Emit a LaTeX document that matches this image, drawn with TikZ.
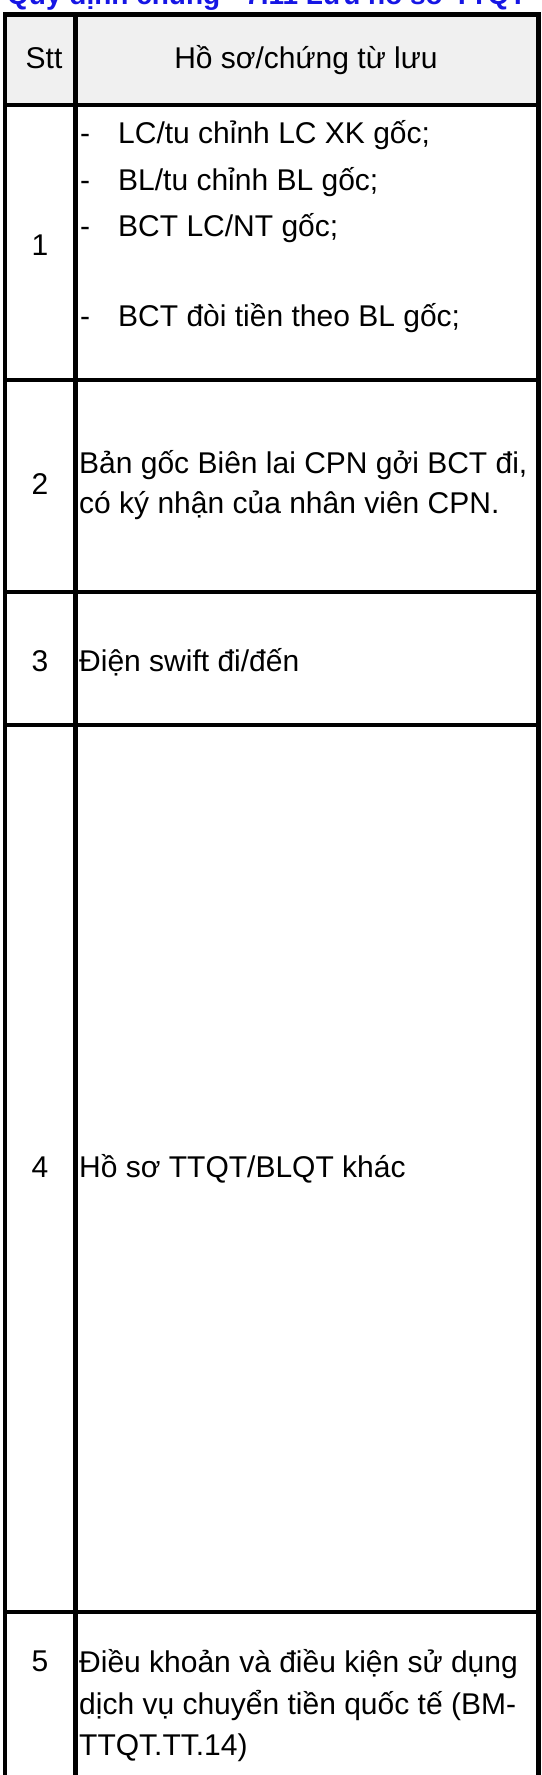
\documentclass[tikz,border=0pt]{standalone}
\usepackage{fontspec}
\setmainfont{Liberation Sans}
\usetikzlibrary{positioning}
\definecolor{titleblue}{RGB}{22,22,228}
\definecolor{headgray}{RGB}{240,240,240}
\tikzset{
    gridline/.style={line width=4.5pt},
    celltext/.style={inner sep=0pt, anchor=base west, font=\fontsize{30}{40}\selectfont},
    sttnum/.style={inner sep=0pt, anchor=base, font=\fontsize{30}{40}\selectfont},
}

\begin{document}
\begin{tikzpicture}[x=1pt,y=-1pt]
    \useasboundingbox (0,0) rectangle (541,1775);
    \clip (0,0) rectangle (541,1775);

    % title, cut off at the top
    \node[anchor=base west, inner sep=0pt, text=titleblue,
        font=\fontsize{28}{34}\selectfont\bfseries] (title) at (7,4)
        {Quy định chung - 7.11 Lưu hồ sơ TTQT};

    \fill[headgray] (5,14) rectangle (538.5,105);

    \node[sttnum] (stt) at (44,68) {Stt};
    \node[sttnum] (hoso) at (306,68) {Hồ sơ/chứng từ lưu};

    \node[sttnum] (n1) at (40,255) {1};
    \node[celltext] (d1) at (80,143) {-};
    \node[celltext] (r1a) at (118,143) {LC/tu chỉnh LC XK gốc;};
    \node[celltext] (d2) at (80,190) {-};
    \node[celltext] (r1b) at (118,190) {BL/tu chỉnh BL gốc;};
    \node[celltext] (d3) at (80,236) {-};
    \node[celltext] (r1c) at (118,236) {BCT LC/NT gốc;};
    \node[celltext] (d4) at (80,326) {-};
    \node[celltext] (r1d) at (118,326) {BCT đòi tiền theo BL gốc;};

    \node[sttnum] (n2) at (40,494) {2};
    \node[celltext] (r2a) at (79,473) {Bản gốc Biên lai CPN gởi BCT đi,};
    \node[celltext] (r2b) at (79,513) {có ký nhận của nhân viên CPN.};

    \node[sttnum] (n3) at (40,671) {3};
    \node[celltext] (r3) at (79,671) {Điện swift đi/đến};

    \node[sttnum] (n4) at (40,1177) {4};
    \node[celltext] (r4) at (79,1177) {Hồ sơ TTQT/BLQT khác};

    \node[sttnum] (n5) at (40,1671) {5};
    \node[celltext] (r5a) at (79,1672) {Điều khoản và điều kiện sử dụng};
    \node[celltext] (r5b) at (79,1714) {dịch vụ chuyển tiền quốc tế (BM-};
    \node[celltext] (r5c) at (79,1755) {TTQT.TT.14)};

    % grid
    \draw[gridline] (5,12) -- (5,1780);
    \draw[gridline] (75.5,12) -- (75.5,1780);
    \draw[gridline] (538.5,12) -- (538.5,1780);
    \draw[gridline] (3,14.5) -- (541,14.5);
    \draw[gridline] (3,105) -- (541,105);
    \draw[gridline] (3,380) -- (541,380);
    \draw[gridline] (3,592) -- (541,592);
    \draw[gridline] (3,725) -- (541,725);
    \draw[gridline] (3,1612) -- (541,1612);
\end{tikzpicture}
\end{document}
